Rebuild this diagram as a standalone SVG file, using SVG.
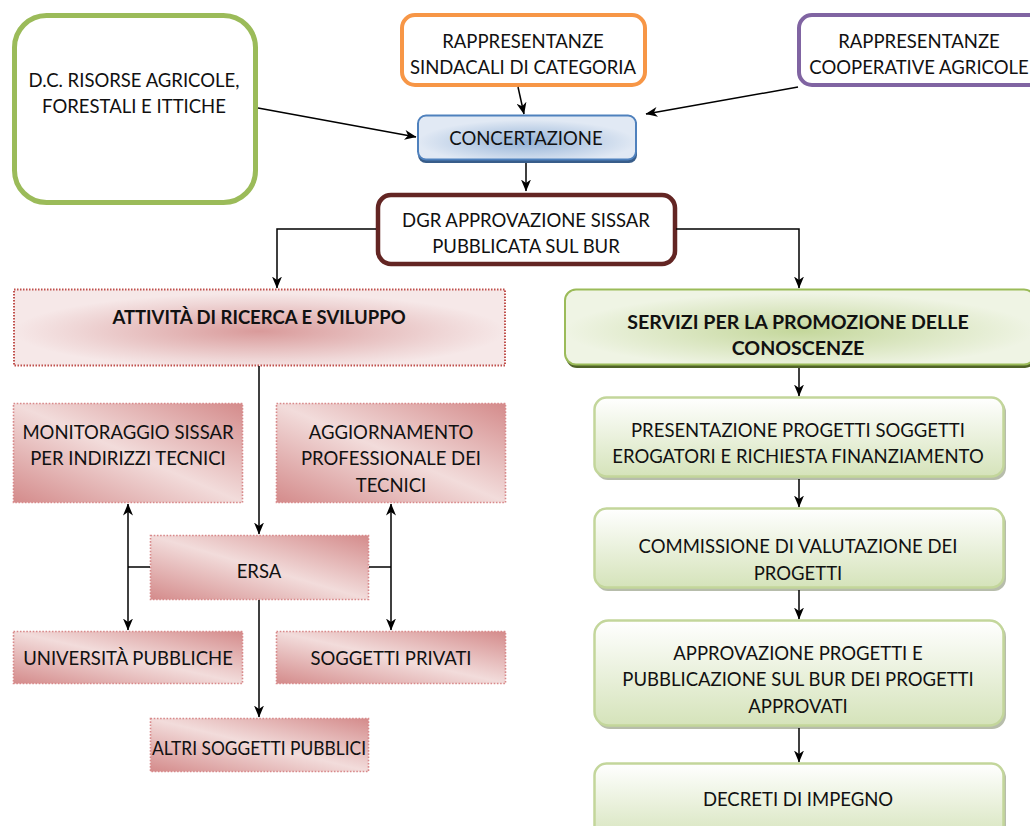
<svg xmlns="http://www.w3.org/2000/svg" width="1030" height="826" viewBox="0 0 1030 826">
<style>
text{font-family:Lato,"Open Sans","Liberation Sans",sans-serif;font-size:18.5px;fill:#111;text-anchor:middle}
.b{font-weight:bold}
.b2{font-weight:bold;font-size:19.6px}
.conn{fill:none;stroke:#000;stroke-width:1.5}
.pk{fill:url(#pinkDiag);stroke:#d8898a;stroke-width:1.6;stroke-dasharray:1.6 1.6}
.st{fill:url(#stepGrad);stroke:#c3d69b;stroke-width:2.5}
.sh{fill:#b7bdab}
</style>
<defs>
<marker id="ah" viewBox="0 0 12 10" refX="11.5" refY="5" markerWidth="12" markerHeight="10" orient="auto-start-reverse" markerUnits="userSpaceOnUse"><path d="M0,0 L12,5 L0,10 L3.5,5 z" fill="#000"/></marker>
<linearGradient id="pinkDiag" x1="1" y1="0" x2="0" y2="1"><stop offset="0" stop-color="#d48b8b"/><stop offset="0.5" stop-color="#f2dcdb"/><stop offset="1" stop-color="#d48b8b"/></linearGradient>
<radialGradient id="attGrad" cx="0.5" cy="0.55" r="0.5"><stop offset="0" stop-color="#d99a9a"/><stop offset="0.75" stop-color="#efd6d6"/><stop offset="1" stop-color="#f6e8e8"/></radialGradient>
<radialGradient id="concGrad" cx="0.5" cy="0.6" r="0.5"><stop offset="0" stop-color="#95b3d7"/><stop offset="1" stop-color="#e1e9f4"/></radialGradient>
<radialGradient id="servGrad" cx="0.5" cy="0.55" r="0.5"><stop offset="0" stop-color="#c4d79b"/><stop offset="1" stop-color="#eff4e4"/></radialGradient>
<linearGradient id="stepGrad" x1="0" y1="0" x2="0" y2="1"><stop offset="0" stop-color="#ffffff"/><stop offset="1" stop-color="#d5e3ba"/></linearGradient>
</defs>

<g id="dc">
<rect x="14.5" y="15.5" width="241" height="187" rx="32" fill="#fff" stroke="#9bbb59" stroke-width="5"/>
<text x="134" y="87">D.C. RISORSE AGRICOLE,</text>
<text x="134" y="113">FORESTALI E ITTICHE</text>
</g>
<g id="sindacali">
<rect x="402" y="15" width="243" height="70" rx="13" fill="#fff" stroke="#f79646" stroke-width="4"/>
<text x="523" y="48">RAPPRESENTANZE</text>
<text x="523" y="74">SINDACALI DI CATEGORIA</text>
</g>
<g id="cooperative">
<rect x="799" y="15" width="245" height="70" rx="13" fill="#fff" stroke="#8064a2" stroke-width="4"/>
<text x="919" y="48">RAPPRESENTANZE</text>
<text x="919" y="74">COOPERATIVE AGRICOLE</text>
</g>
<g id="concertazione">
<rect x="418" y="117" width="219" height="46" rx="8" fill="#385d8a"/>
<rect x="418" y="115.5" width="218" height="44" rx="8" fill="url(#concGrad)" stroke="#4f81bd" stroke-width="2"/>
<text x="526" y="145">CONCERTAZIONE</text>
</g>
<g id="dgr">
<rect x="378" y="195" width="297" height="69" rx="13" fill="#fff" stroke="#632523" stroke-width="4.5"/>
<text x="526" y="227">DGR APPROVAZIONE SISSAR</text>
<text x="526" y="253">PUBBLICATA SUL BUR</text>
</g>
<g id="attivita">
<rect x="14" y="289.5" width="491" height="76" fill="url(#attGrad)" stroke="#c0504d" stroke-width="2" stroke-dasharray="1.5 1.5"/>
<text class="b" x="259" y="324">ATTIVITÀ DI RICERCA E SVILUPPO</text>
</g>
<g id="monitoraggio">
<rect class="pk" x="13.5" y="403.5" width="229" height="99"/>
<text x="128" y="439">MONITORAGGIO SISSAR</text>
<text x="128" y="465">PER INDIRIZZI TECNICI</text>
</g>
<g id="aggiornamento">
<rect class="pk" x="276.5" y="403.5" width="229" height="99"/>
<text x="391" y="439">AGGIORNAMENTO</text>
<text x="391" y="465">PROFESSIONALE DEI</text>
<text x="391" y="492">TECNICI</text>
</g>
<g id="ersa">
<rect class="pk" x="150.5" y="535.5" width="218" height="64"/>
<text x="259" y="578">ERSA</text>
</g>
<g id="universita">
<rect class="pk" x="13.5" y="631.5" width="229" height="52"/>
<text x="128" y="665">UNIVERSITÀ PUBBLICHE</text>
</g>
<g id="privati">
<rect class="pk" x="276.5" y="631.5" width="229" height="52"/>
<text x="391" y="665">SOGGETTI PRIVATI</text>
</g>
<g id="altri">
<rect class="pk" x="150.5" y="718.5" width="218" height="53"/>
<text x="259" y="755" textLength="214" lengthAdjust="spacingAndGlyphs">ALTRI SOGGETTI PUBBLICI</text>
</g>
<g id="servizi">
<rect x="566" y="292" width="470" height="76" rx="11" fill="#4f6228"/>
<rect x="565" y="289.5" width="470" height="75" rx="11" fill="url(#servGrad)" stroke="#9bbb59" stroke-width="2"/>
<text class="b2" x="798" y="329">SERVIZI PER LA PROMOZIONE DELLE</text>
<text class="b2" x="798" y="355">CONOSCENZE</text>
</g>
<g id="presentazione">
<rect class="sh" x="596" y="400" width="410" height="80" rx="12"/>
<rect class="st" x="594.5" y="397.5" width="409" height="79" rx="12"/>
<text x="798" y="437">PRESENTAZIONE PROGETTI SOGGETTI</text>
<text x="798" y="463">EROGATORI E RICHIESTA FINANZIAMENTO</text>
</g>
<g id="commissione">
<rect class="sh" x="596" y="511" width="410" height="80" rx="12"/>
<rect class="st" x="594.5" y="508.5" width="409" height="79" rx="12"/>
<text x="798" y="553">COMMISSIONE DI VALUTAZIONE DEI</text>
<text x="798" y="580">PROGETTI</text>
</g>
<g id="approvazione">
<rect class="sh" x="596" y="623" width="410" height="106" rx="14"/>
<rect class="st" x="594.5" y="620.5" width="409" height="105" rx="14"/>
<text x="798" y="660">APPROVAZIONE PROGETTI E</text>
<text x="798" y="686">PUBBLICAZIONE SUL BUR DEI PROGETTI</text>
<text x="798" y="713">APPROVATI</text>
</g>
<g id="decreti">
<rect class="sh" x="596" y="766" width="410" height="80" rx="12"/>
<rect class="st" x="594.5" y="763.5" width="409" height="79" rx="12"/>
<text x="798" y="806">DECRETI DI IMPEGNO</text>
</g>

<g id="connectors">
<line class="conn" x1="258" y1="108" x2="416" y2="137" marker-end="url(#ah)"/>
<line class="conn" x1="518" y1="87" x2="524" y2="114" marker-end="url(#ah)"/>
<line class="conn" x1="798" y1="87" x2="646" y2="114" marker-end="url(#ah)"/>
<line class="conn" x1="526" y1="163" x2="526" y2="191" marker-end="url(#ah)"/>
<polyline class="conn" points="376,229 277,229 277,288" marker-end="url(#ah)"/>
<polyline class="conn" points="676,229 799,229 799,288" marker-end="url(#ah)"/>
<line class="conn" x1="259" y1="366" x2="259" y2="534" marker-end="url(#ah)"/>
<line class="conn" x1="128" y1="504" x2="128" y2="630" marker-start="url(#ah)" marker-end="url(#ah)"/>
<line class="conn" x1="150" y1="567" x2="128" y2="567"/>
<line class="conn" x1="391" y1="504" x2="391" y2="630" marker-start="url(#ah)" marker-end="url(#ah)"/>
<line class="conn" x1="369" y1="567" x2="391" y2="567"/>
<line class="conn" x1="259" y1="600" x2="259" y2="717" marker-end="url(#ah)"/>
<line class="conn" x1="799" y1="368" x2="799" y2="396" marker-end="url(#ah)"/>
<line class="conn" x1="799" y1="479" x2="799" y2="507" marker-end="url(#ah)"/>
<line class="conn" x1="799" y1="590" x2="799" y2="619" marker-end="url(#ah)"/>
<line class="conn" x1="799" y1="728" x2="799" y2="762" marker-end="url(#ah)"/>
</g>
</svg>
